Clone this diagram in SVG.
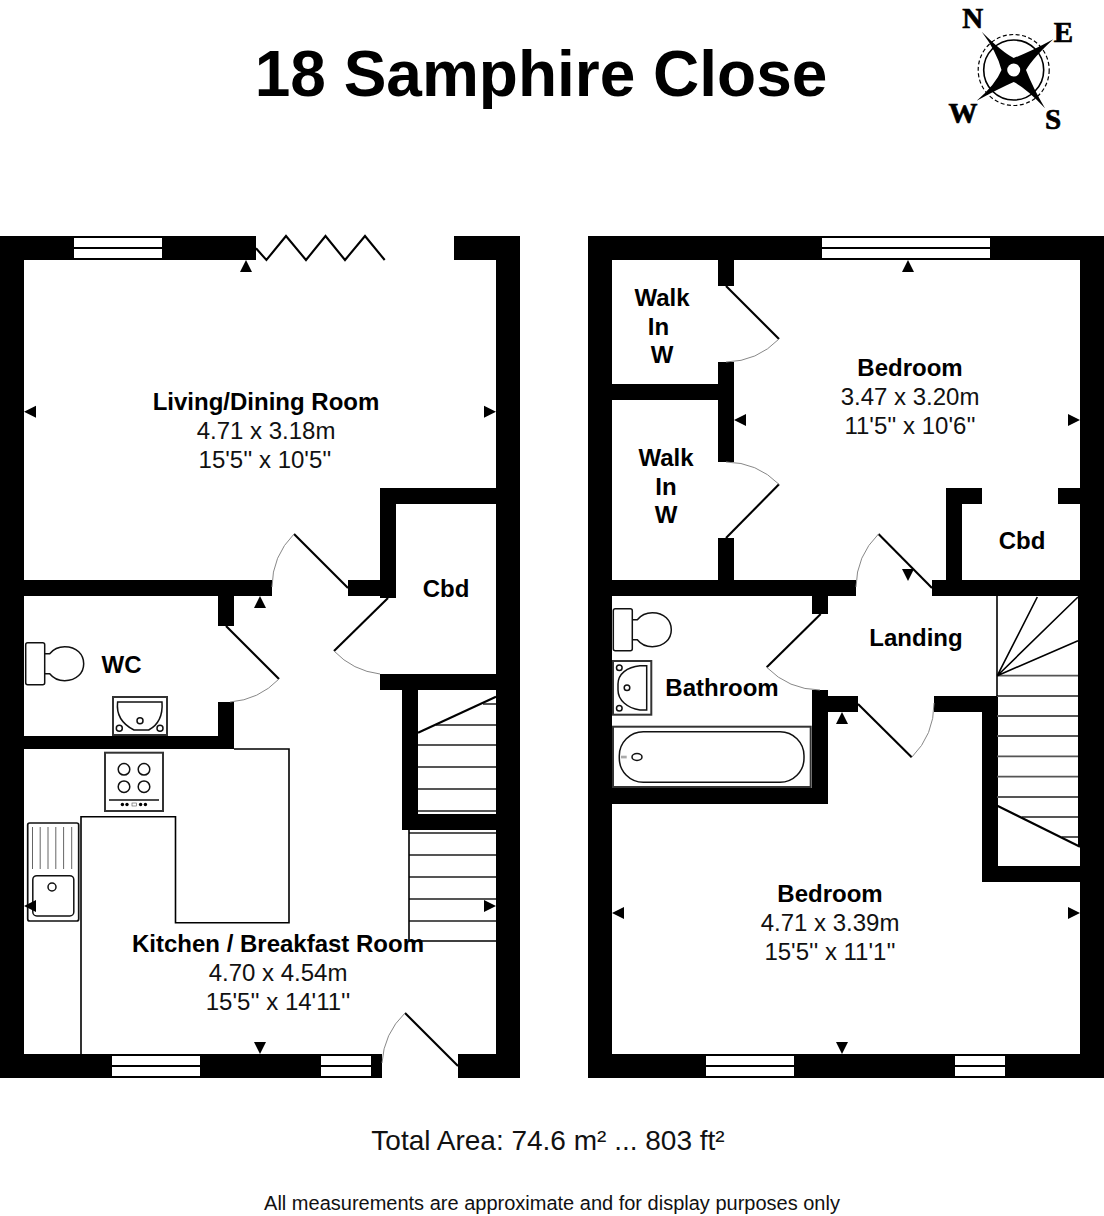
<svg xmlns="http://www.w3.org/2000/svg" width="1104" height="1216" viewBox="0 0 1104 1216">
<style>
text{font-family:"Liberation Sans",Arial,sans-serif;fill:#000;text-anchor:middle}
.b{font-weight:bold;font-size:24px}
.r{font-size:24px;fill:#111}
.c{font-family:"Liberation Serif","Times New Roman",serif;font-weight:bold;font-size:29px;stroke:#000;stroke-width:.7}
.wall{fill:#000}
.win{fill:#fff}
.leaf{fill:none;stroke:#000;stroke-width:2.1}
.arc{fill:none;stroke:#888;stroke-width:1}
.thin{fill:none;stroke:#000;stroke-width:1.6}
.fit{fill:none;stroke:#111;stroke-width:1.5}
.box{fill:#fff;stroke:#333;stroke-width:2}
.tread{stroke:#555;stroke-width:1.8;fill:none}
.ar{fill:#000}
</style>
<defs>
<path id="au" d="M-6 0L0-12L6 0Z"/>
<path id="toilet" d="M0 0h15a2 2 0 0 1 2 2v38a2 2 0 0 1-2 2h-15a2 2 0 0 1-2-2v-38a2 2 0 0 1 2-2ZM17 11h5C26 6 32 4 37 4C49 4 56 12 56 21C56 30 49 38 37 38C32 38 26 36 22 31h-5"/>
</defs>
<rect width="1104" height="1216" fill="#fff"/>
<text id="title" x="541" y="96" style="font-size:64px;font-weight:bold">18 Samphire Close</text>
<g id="compass">
<circle cx="1013.7" cy="70" r="30" fill="none" stroke="#000" stroke-width="1.6"/>
<circle cx="1013.7" cy="70" r="35.5" fill="none" stroke="#000" stroke-width="1.2" stroke-dasharray="4 2.5"/>
<path fill="#000" d="M981.7 31.7Q1002 52 1013.7 58Q1030 52 1053.3 39.3Q1033 58 1026 70Q1033 88 1045 108.3Q1026 88 1013.7 82Q1000 88 976.7 100.7Q996 84 1001.5 70Q997 52 981.7 31.7Z"/>
<circle cx="1013.7" cy="70" r="6.5" fill="#fff"/>
<text class="c" x="972.7" y="28">N</text>
<text class="c" x="1063.3" y="41.7">E</text>
<text class="c" x="963" y="122.7">W</text>
<text class="c" x="1053" y="129">S</text>
</g>
<g id="ground-floor-walls" class="wall">
<rect x="0" y="236" width="24" height="842"/>
<rect x="0" y="236" width="256" height="24"/>
<rect x="454" y="236" width="66" height="24"/>
<rect x="496" y="236" width="24" height="842"/>
<rect x="0" y="1054" width="382" height="24"/>
<rect x="458" y="1054" width="62" height="24"/>
<rect x="24" y="580" width="248" height="16"/>
<rect x="348" y="580" width="48" height="16"/>
<rect x="380" y="488" width="116" height="16"/>
<rect x="380" y="488" width="16" height="110"/>
<rect x="218" y="596" width="16" height="30"/>
<rect x="218" y="702" width="16" height="47"/>
<rect x="24" y="736" width="210" height="13"/>
<rect x="380" y="674" width="116" height="16"/>
<rect x="402" y="674" width="16" height="156"/>
<rect x="402" y="814" width="94" height="16"/>
</g>
<g id="ground-floor-windows" class="win">
<rect x="74" y="238" width="88" height="9"/><rect x="74" y="249" width="88" height="9"/>
<rect x="112" y="1056" width="88" height="9"/><rect x="112" y="1067" width="88" height="9"/>
<rect x="321" y="1056" width="50" height="9"/><rect x="321" y="1067" width="50" height="9"/>
</g>
<g id="ground-floor-stairs">
<path class="tread" d="M483 704H496M436 725H496M418 745H496M418 767H496M418 789H496M418 811H496M409 833H496M409 855H496M409 877H496M409 899H496M409 921H496"/>
<path class="leaf" d="M418 732.7L496 696.7"/>
<path class="thin" d="M409 830V941H496"/>
</g>
<g id="ground-floor-doors">
<polyline class="leaf" points="256,248.3 266.4,260 286,236 306,260 325.5,236 345,260 365,236 384.7,260"/>
<path class="leaf" d="M348 588L294 534"/><path class="arc" d="M294 534A76 76 0 0 0 272 587"/>
<path class="leaf" d="M388 598L334 651"/><path class="arc" d="M334 651A76 76 0 0 0 380 674"/>
<path class="leaf" d="M226 626L279 679"/><path class="arc" d="M279 679A76 76 0 0 1 230 702"/>
<path class="leaf" d="M458 1066L405 1013"/><path class="arc" d="M405 1013A76 76 0 0 0 382 1063"/>
</g>
<g id="kitchen-units">
<path class="thin" d="M234 749H289V922.7H175.5V816.7H81V1054"/>
<g id="hob">
<rect class="box" x="105" y="752.7" width="58" height="58.3"/>
<circle class="fit" cx="124" cy="769.3" r="5.8"/><circle class="fit" cx="144" cy="769.3" r="5.8"/>
<circle class="fit" cx="124" cy="786.7" r="5.8"/><circle class="fit" cx="144" cy="786.7" r="5.8"/>
<path class="fit" d="M109 800H159"/>
<circle cx="122.4" cy="804.5" r="1.7"/><circle cx="127" cy="804.5" r="1.7"/><rect x="132" y="803" width="4.5" height="3" fill="#fff" stroke="#555" stroke-width=".6"/><circle cx="140.6" cy="804.5" r="1.7"/><circle cx="145.4" cy="804.5" r="1.7"/>
</g>
<g id="sink">
<rect x="27.7" y="823" width="51" height="98" rx="2" fill="#fff" stroke="#111" stroke-width="1.7"/>
<path fill="none" stroke="#666" stroke-width="1" d="M32.5 827V869M40.2 827V869M48 827V869M55.8 827V869M63.6 827V869M71.7 827V869"/>
<rect class="fit" x="32.8" y="875.7" width="41" height="40.3" rx="4"/>
<circle class="fit" cx="52" cy="887" r="4"/>
</g>
</g>
<g id="wc-fittings">
<use href="#toilet" x="27.7" y="642.7" class="fit"/>
<rect class="box" x="113" y="697" width="54" height="38"/>
<path class="fit" d="M117.6 702H162C163 716 158 725 148.7 730H134C124 725 116 716 117.6 702Z"/>
<circle class="fit" stroke-width="1" cx="140" cy="720.7" r="3"/><circle class="fit" cx="119.3" cy="728.3" r="3"/><circle class="fit" cx="160" cy="728.3" r="3"/>
</g>
<g id="first-floor-walls" class="wall">
<rect x="588" y="236" width="24" height="842"/>
<rect x="588" y="236" width="516" height="24"/>
<rect x="1080" y="236" width="24" height="842"/>
<rect x="588" y="1054" width="516" height="24"/>
<rect x="718" y="260" width="16" height="26"/>
<rect x="718" y="362" width="16" height="100"/>
<rect x="612" y="384" width="122" height="16"/>
<rect x="718" y="538" width="16" height="42"/>
<rect x="612" y="580" width="244" height="16"/>
<rect x="932" y="580" width="148" height="16"/>
<rect x="946" y="488" width="16" height="92"/>
<rect x="946" y="488" width="36" height="16"/>
<rect x="1058" y="488" width="22" height="16"/>
<rect x="812" y="596" width="16" height="18"/>
<rect x="812" y="690" width="16" height="114"/>
<rect x="612" y="788" width="216" height="16"/>
<rect x="828" y="696" width="30" height="16"/>
<rect x="934" y="696" width="64" height="16"/>
<rect x="982" y="696" width="16" height="186"/>
<rect x="982" y="866" width="98" height="16"/>
<rect x="1078" y="596" width="2" height="250"/>
</g>
<g id="first-floor-windows" class="win">
<rect x="822" y="238" width="168" height="9"/><rect x="822" y="249" width="168" height="9"/>
<rect x="706" y="1056" width="88" height="9"/><rect x="706" y="1067" width="88" height="9"/>
<rect x="955" y="1056" width="50" height="9"/><rect x="955" y="1067" width="50" height="9"/>
</g>
<g id="first-floor-stairs">
<path class="tread" d="M997 675.7H1078M997 696H1078M997 716H1078M997 736H1078M997 756.3H1078M997 776.7H1078M997 797H1078M1021.7 817H1078M1061.7 837H1078"/>
<path class="thin" d="M997 596V696"/>
<path class="thin" d="M997.3 675.7L1037.3 597M997.3 675.7L1078 597M997.3 675.7L1078 640.7"/>
<path class="leaf" d="M997.3 805.7L1080 846.7"/>
</g>
<g id="first-floor-doors">
<path class="leaf" d="M726 286L779 339"/><path class="arc" d="M779 339A76 76 0 0 1 726 362"/>
<path class="leaf" d="M726 538L779 484.3"/><path class="arc" d="M779 484.3A76 76 0 0 0 726 462"/>
<path class="leaf" d="M932 588L878.5 534"/><path class="arc" d="M878.5 534A76 76 0 0 0 856 587"/>
<path class="leaf" d="M820.7 614L766.7 667.3"/><path class="arc" d="M766.7 667.3A76 76 0 0 0 820 690"/>
<path class="leaf" d="M858 704L911.7 757.3"/><path class="arc" d="M911.7 757.3A76 76 0 0 0 934 703"/>
</g>
<g id="bathroom-fittings">
<use href="#toilet" x="615.3" y="608.7" class="fit"/>
<rect class="box" x="613" y="661" width="38.3" height="53.7"/>
<path class="fit" d="M646.7 665.7V710H640C627 708 618 700 618 690V684C618 674 627 667 640 665.7Z"/>
<circle class="fit" cx="619.3" cy="667.7" r="2.8"/><circle class="fit" cx="619.3" cy="708.3" r="2.8"/><circle class="fit" stroke-width="1" cx="627" cy="687.7" r="2.8"/>
<rect class="box" x="613" y="726.7" width="197.7" height="60.3"/>
<rect class="fit" x="619.3" y="731.7" width="184.7" height="50.6" rx="24" ry="24"/>
<ellipse class="fit" cx="637" cy="757" rx="5" ry="3.4"/>
<rect x="621" y="755.7" width="5.7" height="2.7" fill="#aaa"/>
</g>
<g id="dimension-arrows" class="ar">
<use href="#au" x="246" y="272"/>
<use href="#au" transform="translate(246 568) rotate(180)" y="-12"/>
<use href="#au" x="260" y="608"/>
<use href="#au" transform="translate(36 411.7) rotate(-90)"/>
<use href="#au" transform="translate(484 411.7) rotate(90)"/>
<use href="#au" transform="translate(260 1042) rotate(180)"/>
<use href="#au" transform="translate(36 906) rotate(-90)"/>
<use href="#au" transform="translate(484 906) rotate(90)"/>
<use href="#au" x="908" y="272"/>
<use href="#au" transform="translate(746 420) rotate(-90)"/>
<use href="#au" transform="translate(1068 420) rotate(90)"/>
<use href="#au" transform="translate(908 569) rotate(180)"/>
<use href="#au" x="842" y="724"/>
<use href="#au" transform="translate(624 913) rotate(-90)"/>
<use href="#au" transform="translate(1068 913) rotate(90)"/>
<use href="#au" transform="translate(842 1042) rotate(180)"/>
</g>
<g id="room-living"><text class="b" x="266" y="410">Living/Dining Room</text><text class="r" x="266" y="439">4.71 x 3.18m</text><text class="r" x="265" y="468">15'5'' x 10'5''</text></g>
<g id="room-cbd-ground"><text class="b" x="446" y="597">Cbd</text></g>
<g id="room-wc"><text class="b" x="121.5" y="673">WC</text></g>
<g id="room-kitchen"><text class="b" x="278" y="952">Kitchen / Breakfast Room</text><text class="r" x="278" y="981">4.70 x 4.54m</text><text class="r" x="278" y="1010">15'5'' x 14'11''</text></g>
<g id="room-walkin-1"><text class="b" x="662" y="306">Walk</text><text class="b" x="658.5" y="335">In</text><text class="b" x="662" y="363">W</text></g>
<g id="room-walkin-2"><text class="b" x="666" y="466">Walk</text><text class="b" x="666" y="495">In</text><text class="b" x="666" y="523">W</text></g>
<g id="room-bedroom-1"><text class="b" x="910" y="376">Bedroom</text><text class="r" x="910" y="405">3.47 x 3.20m</text><text class="r" x="910" y="434">11'5'' x 10'6''</text></g>
<g id="room-cbd-first"><text class="b" x="1022" y="549">Cbd</text></g>
<g id="room-landing"><text class="b" x="916" y="646">Landing</text></g>
<g id="room-bathroom"><text class="b" x="722" y="696">Bathroom</text></g>
<g id="room-bedroom-2"><text class="b" x="830" y="902">Bedroom</text><text class="r" x="830" y="931">4.71 x 3.39m</text><text class="r" x="830" y="960">15'5'' x 11'1''</text></g>
<text id="total-area" x="548" y="1150" style="font-size:28px;fill:#111">Total Area: 74.6 m² ... 803 ft²</text>
<text id="disclaimer" x="552" y="1210" style="font-size:20px;fill:#111">All measurements are approximate and for display purposes only</text>
</svg>
